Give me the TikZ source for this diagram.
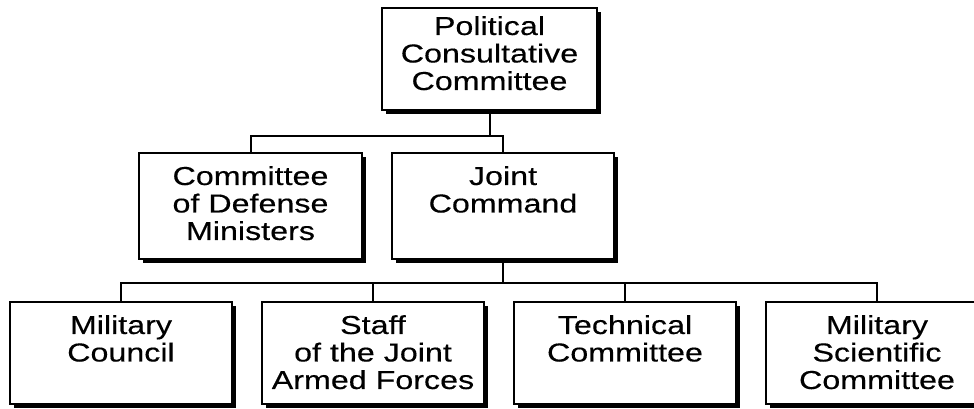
\documentclass[tikz,border=0pt]{standalone}
\usepackage{fontspec}
\setmainfont{Liberation Sans}[FakeStretch=1.24,FakeBold=0.3]
\usetikzlibrary{positioning,shadows}

% text of a box, set from the top
\newcommand{\orgtext}[4][32pt]{\parbox[c][#3][t]{#2}{\centering\rule{0pt}{#1}#4}}

\begin{document}
\begin{tikzpicture}[x=1pt,y=1pt,
  orgbox/.style={draw, line width=2pt, fill=white, inner sep=0pt,
    font=\fontsize{26}{27.5}\selectfont,
    drop shadow={shadow xshift=4pt, shadow yshift=-4pt, fill=black, opacity=1}},
  link/.style={line width=2pt}]
\useasboundingbox (0,0) rectangle (974,409);
% top
\node[orgbox] (pcc) at (489.5,350) {\orgtext[27pt]{215pt}{102pt}{Political\\ Consultative\\ Committee}};
% second row
\node[orgbox] (codm) at (250.5,203) {\orgtext{223pt}{106pt}{Committee\\ of Defense\\ Ministers}};
\node[orgbox, right=28pt of codm] (jc) {\orgtext{222pt}{106pt}{Joint\\ Command}};
% third row
\node[orgbox] (mc) at (121,56) {\orgtext{222pt}{102pt}{Military\\ Council}};
\node[orgbox, right=28pt of mc] (staff) {\orgtext{222pt}{102pt}{Staff\\ of the Joint\\ Armed Forces}};
\node[orgbox, right=28pt of staff] (tech) {\orgtext{222pt}{102pt}{Technical\\ Committee}};
\node[orgbox, right=28pt of tech] (msc) {\orgtext{222pt}{102pt}{Military\\ Scientific\\ Committee}};
% links
\draw[link] (pcc.south) -- ++(0,-25) -| (codm.north);
\draw[link] (pcc.south) -- ++(0,-25) -| (jc.north);
\draw[link] (jc.south) -- ++(0,-23) -| (mc.north);
\draw[link] (jc.south) -- ++(0,-23) -| (staff.north);
\draw[link] (jc.south) -- ++(0,-23) -| (tech.north);
\draw[link] (jc.south) -- ++(0,-23) -| (msc.north);
\end{tikzpicture}
\end{document}
